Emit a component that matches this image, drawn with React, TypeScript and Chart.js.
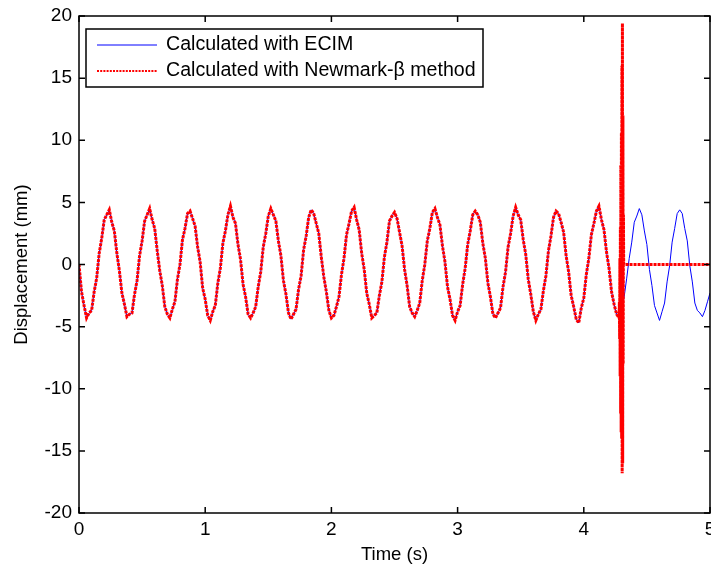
import React, { useEffect, useRef } from "react";
import { Chart, registerables } from "chart.js";

Chart.register(...registerables);

// Sampling interval of the displacement records (s)
const SAMPLE_DT = 0.02;

// Displacement calculated with ECIM (mm), sampled every SAMPLE_DT from t = 0 to t = 5 s
const ecimDisplacement = [
  0.0, -2.2, -3.3, -4.3, -3.9, -3.7, -2.2, -1.1, 0.9, 2.1,
  3.6, 4.0, 4.4, 3.4, 2.7, 0.9, -0.5, -2.3, -3.2, -4.2,
  -4.0, -3.9, -2.4, -1.3, 0.7, 1.9, 3.5, 4.0, 4.5, 3.6,
  2.9, 1.1, -0.5, -1.7, -3.4, -4.0, -4.3, -3.6, -3.0, -1.2,
  0.0, 2.0, 2.9, 4.1, 4.3, 3.7, 3.1, 1.4, 0.2, -1.9,
  -2.8, -4.1, -4.5, -3.8, -3.3, -1.5, -0.3, 1.7, 2.7, 4.0,
  4.7, 3.8, 3.3, 1.6, 0.4, -1.6, -2.6, -4.0, -4.3, -3.9,
  -3.4, -1.8, -0.6, 1.4, 2.5, 3.9, 4.5, 4.0, 3.5, 1.9,
  0.7, -1.3, -2.4, -3.9, -4.4, -4.0, -3.6, -2.0, -0.9, 1.2,
  2.3, 3.8, 4.4, 4.1, 3.3, 2.5, 0.6, -1.0, -2.2, -3.7,
  -4.3, -4.1, -3.4, -2.6, -0.8, 0.5, 2.4, 3.3, 4.3, 4.6,
  3.6, 2.8, 0.9, -0.4, -2.3, -3.2, -4.3, -4.1, -3.9, -2.5,
  -1.4, 0.6, 1.8, 3.5, 3.9, 4.2, 3.7, 2.6, 1.5, -0.4,
  -1.7, -3.4, -3.9, -4.2, -3.7, -3.1, -1.3, 0.0, 1.9, 2.9,
  4.2, 4.5, 3.8, 3.2, 1.5, 0.2, -1.8, -2.8, -4.1, -4.5,
  -3.8, -3.3, -1.6, -0.3, 1.6, 2.7, 4.0, 4.3, 4.0, 3.4,
  1.7, 0.5, -1.5, -2.6, -4.0, -4.3, -3.9, -3.5, -1.8, -0.6,
  1.4, 2.5, 3.9, 4.6, 4.0, 3.6, 2.0, 0.8, -1.2, -2.4,
  -3.8, -4.5, -4.0, -3.6, -2.1, -0.9, 1.1, 2.3, 3.8, 4.3,
  4.1, 3.4, 2.6, 0.7, -0.6, -2.5, -3.4, -4.4, -4.7, -3.5,
  -2.7, -0.8, 0.5, 2.4, 3.3, 4.3, 4.7, 3.6, 2.8, 1.0,
  -0.3, -2.2, -3.2, -4.0, -4.3, -3.6, -2.6, -1.1, 0.5, 1.8,
  3.4, 3.9, 4.5, 4.0, 2.7, 1.6, -0.4, -1.7, -3.3, -3.9,
  -4.5, -3.8, -3.1, -1.4, -0.1, 1.8, 2.9, 4.1, 4.4, 4.1,
  2.9, 1.9, -0.1, -1.4, -3.1, -3.7, -3.9, -4.2, -3.7, -3.0,
  -2.3,
];

// Newmark-β follows the ECIM record up to this sample index (t = 4.28 s), then diverges
const NEWMARK_SHARED_LAST_INDEX = 214;

// Numerical blow-up of the Newmark-β solution
const newmarkSpikeTimes = [
  4.282, 4.284, 4.286, 4.288, 4.29, 4.292, 4.294, 4.296, 4.298,
  4.3, 4.302, 4.304, 4.306, 4.308, 4.31, 4.312, 4.314, 4.316,
];
const newmarkSpikeValues = [
  -3.0, -6.0, 0.5, -9.0, 3.0, -12.0, 8.0, -13.5, 10.6,
  -14.0, 16.0, -16.8, 19.4, -16.0, 12.0, -8.0, 4.0, 0.0,
];

// Flat (zero) Newmark-β output after the blow-up
const newmarkTailTimes = [5.0];
const newmarkTailValues = [0.0];

const xTickValues = [0, 1, 2, 3, 4, 5];
const yTickValues = [-20, -15, -10, -5, 0, 5, 10, 15, 20];

const seriesLabels = ["Calculated with ECIM", "Calculated with Newmark-\u03b2 method"];
const xAxisTitle = "Time (s)";
const yAxisTitle = "Displacement (mm)";

const FONT_FAMILY = "'Liberation Sans', Arial, Helvetica, sans-serif";
const BLUE = "rgb(0,0,255)";
const RED = "rgb(255,0,0)";

export default function App() {
  const canvasRef = useRef<HTMLCanvasElement | null>(null);

  useEffect(() => {
    document.body.style.margin = "0";
    const canvas = canvasRef.current;
    if (!canvas) return;

    const ecimData = ecimDisplacement.map((v, i) => ({ x: Math.round(i * SAMPLE_DT * 1000) / 1000, y: v }));
    const newmarkData = [
      ...ecimData.slice(0, NEWMARK_SHARED_LAST_INDEX + 1),
      ...newmarkSpikeTimes.map((t, i) => ({ x: t, y: newmarkSpikeValues[i] })),
      ...newmarkTailTimes.map((t, i) => ({ x: t, y: newmarkTailValues[i] })),
    ];

    const framePlugin = {
      id: "matlabFrame",
      afterDatasetsDraw(chart: any) {
        const { ctx, chartArea, scales } = chart;
        const { left, right, top, bottom } = chartArea;
        const tickLen = 6;
        ctx.save();
        ctx.strokeStyle = "#000";
        ctx.lineWidth = 1.5;
        ctx.beginPath();
        for (const v of xTickValues) {
          const px = scales.x.getPixelForValue(v);
          ctx.moveTo(px, bottom);
          ctx.lineTo(px, bottom - tickLen);
          ctx.moveTo(px, top);
          ctx.lineTo(px, top + tickLen);
        }
        for (const v of yTickValues) {
          const py = scales.y.getPixelForValue(v);
          ctx.moveTo(left, py);
          ctx.lineTo(left + tickLen, py);
          ctx.moveTo(right, py);
          ctx.lineTo(right - tickLen, py);
        }
        ctx.stroke();
        ctx.strokeRect(left, top, right - left, bottom - top);

        // Legend box (inside the axes, top-left)
        const lx = left + 7;
        const ly = top + 13;
        const lw = 397;
        const lh = 58;
        ctx.fillStyle = "#fff";
        ctx.fillRect(lx, ly, lw, lh);
        ctx.lineWidth = 1.5;
        ctx.strokeStyle = "#000";
        ctx.strokeRect(lx, ly, lw, lh);

        const rowY = [ly + 16, ly + 42];
        ctx.beginPath();
        ctx.strokeStyle = BLUE;
        ctx.lineWidth = 1;
        ctx.moveTo(lx + 11, rowY[0]);
        ctx.lineTo(lx + 71, rowY[0]);
        ctx.stroke();
        ctx.beginPath();
        ctx.strokeStyle = RED;
        ctx.lineWidth = 2;
        ctx.setLineDash([2, 1.2]);
        ctx.moveTo(lx + 11, rowY[1]);
        ctx.lineTo(lx + 71, rowY[1]);
        ctx.stroke();
        ctx.setLineDash([]);

        ctx.fillStyle = "#000";
        ctx.font = `19.6px ${FONT_FAMILY}`;
        ctx.textAlign = "left";
        ctx.textBaseline = "middle";
        ctx.fillText(seriesLabels[0], lx + 80, rowY[0]);
        ctx.fillText(seriesLabels[1], lx + 80, rowY[1]);
        ctx.restore();
      },
    };

    const chart = new Chart(canvas, {
      type: "line",
      data: {
        datasets: [
          {
            label: seriesLabels[0],
            data: ecimData,
            borderColor: BLUE,
            borderWidth: 1,
            pointRadius: 0,
            tension: 0,
            order: 2,
          },
          {
            label: seriesLabels[1],
            data: newmarkData,
            borderColor: RED,
            borderWidth: 3,
            borderDash: [3, 1],
            pointRadius: 0,
            tension: 0,
            order: 1,
          },
        ],
      },
      options: {
        animation: false,
        responsive: false,
        devicePixelRatio: 1,
        parsing: false,
        layout: { padding: { top: 16, right: 1, left: 0, bottom: 0 } },
        plugins: {
          legend: { display: false },
          tooltip: { enabled: false },
        },
        scales: {
          x: {
            type: "linear",
            min: 0,
            max: 5,
            afterBuildTicks: (scale: any) => {
              scale.ticks = xTickValues.map((v) => ({ value: v }));
            },
            ticks: {
              color: "#000",
              font: { family: FONT_FAMILY, size: 19 },
              padding: 5,
              maxRotation: 0,
              autoSkip: false,
            },
            grid: { display: false, drawTicks: false },
            border: { display: false },
            title: {
              display: true,
              text: xAxisTitle,
              color: "#000",
              font: { family: FONT_FAMILY, size: 18.5 },
              padding: { top: 0, bottom: 3 },
            },
            afterFit: (scale: any) => {
              scale.height = 56;
              scale.paddingLeft = 0;
              scale.paddingRight = 0;
            },
          },
          y: {
            type: "linear",
            min: -20,
            max: 20,
            afterBuildTicks: (scale: any) => {
              scale.ticks = yTickValues.map((v) => ({ value: v }));
            },
            ticks: {
              color: "#000",
              font: { family: FONT_FAMILY, size: 19 },
              padding: 7,
              autoSkip: false,
            },
            grid: { display: false, drawTicks: false },
            border: { display: false },
            title: {
              display: true,
              text: yAxisTitle,
              color: "#000",
              font: { family: FONT_FAMILY, size: 18.5 },
              padding: { top: 11, bottom: 0 },
            },
            afterFit: (scale: any) => {
              scale.width = 79;
              scale.paddingTop = 0;
              scale.paddingBottom = 0;
            },
          },
        },
      },
      plugins: [framePlugin],
    });

    return () => chart.destroy();
  }, []);

  return (
    <div style={{ position: "absolute", left: 0, top: 0, width: 711, height: 569, background: "#fff" }}>
      <canvas ref={canvasRef} width={711} height={569} style={{ display: "block" }} />
    </div>
  );
}
